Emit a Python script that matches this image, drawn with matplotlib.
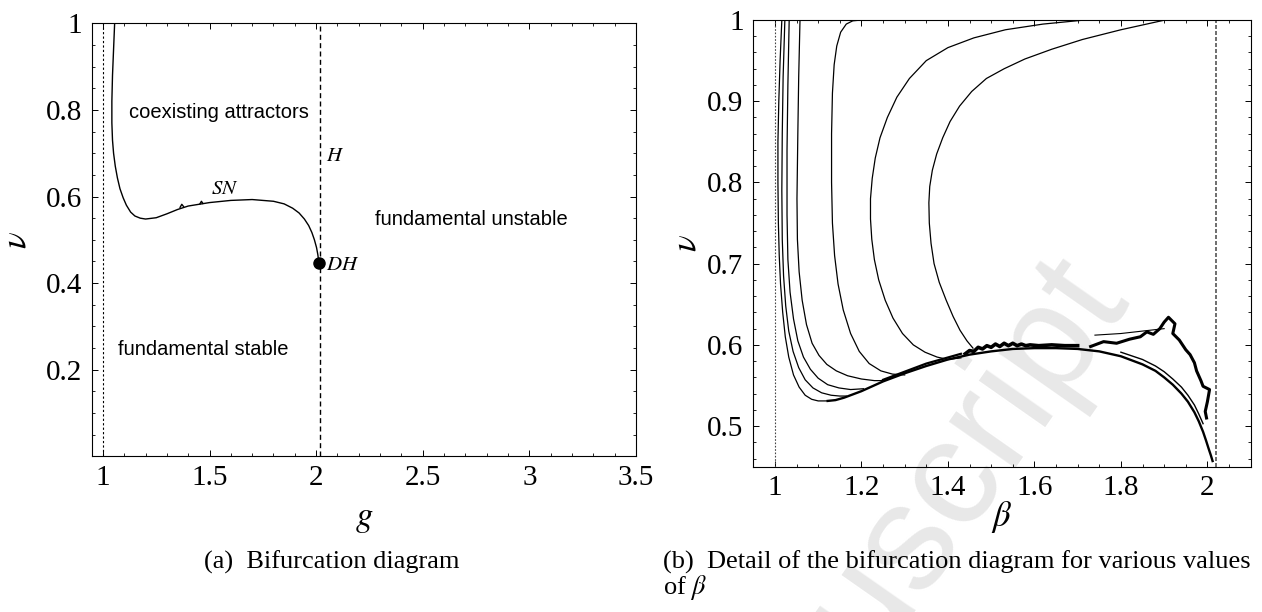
import matplotlib
matplotlib.use('Agg')
import matplotlib.pyplot as plt
from matplotlib.ticker import MultipleLocator, FixedLocator, FuncFormatter

plt.rcParams['mathtext.fontset'] = 'stix'
plt.rcParams['font.family'] = ['Liberation Serif', 'DejaVu Serif']

# ---------------- data: panel (a) ----------------
g_branch = [1.055, 1.050, 1.045, 1.042, 1.042, 1.045, 1.050, 1.058, 1.068, 1.080, 1.095,
            1.110, 1.130, 1.150, 1.175, 1.20, 1.25, 1.30, 1.35, 1.40, 1.50, 1.60, 1.70,
            1.80, 1.85, 1.89, 1.92, 1.945, 1.965, 1.98, 1.992, 2.002, 2.008, 2.013]
v_branch = [1.00, 0.94, 0.88, 0.82, 0.77, 0.73, 0.70, 0.67, 0.643, 0.618, 0.597,
            0.580, 0.564, 0.555, 0.550, 0.548, 0.551, 0.560, 0.570, 0.578, 0.586, 0.591, 0.593,
            0.589, 0.583, 0.573, 0.562, 0.548, 0.533, 0.517, 0.500, 0.482, 0.466, 0.447]
g_wiggle1 = [1.362, 1.370, 1.378]
v_wiggle1 = [0.575, 0.582, 0.577]
g_wiggle2 = [1.455, 1.462, 1.469]
v_wiggle2 = [0.583, 0.589, 0.584]
g_fold = 1.0          # dotted boundary
g_hopf = 2.016        # dashed Hopf line
dh_point = (2.013, 0.447)

# ---------------- data: panel (b) ----------------
c1_b = [1.016, 1.012, 1.009, 1.007, 1.007, 1.008, 1.010, 1.013, 1.018, 1.024, 1.032,
        1.043, 1.056, 1.070, 1.085, 1.100, 1.122]
c1_v = [1.000, 0.950, 0.900, 0.850, 0.800, 0.750, 0.710, 0.675, 0.640, 0.610, 0.585,
        0.563, 0.548, 0.538, 0.533, 0.531, 0.531]
c2_b = [1.023, 1.019, 1.017, 1.016, 1.017, 1.020, 1.025, 1.032, 1.042, 1.055, 1.070,
        1.088, 1.108, 1.130, 1.150, 1.165]
c2_v = [1.000, 0.930, 0.860, 0.790, 0.730, 0.685, 0.648, 0.617, 0.592, 0.572, 0.557,
        0.547, 0.541, 0.538, 0.537, 0.537]
c3_b = [1.033, 1.030, 1.028, 1.028, 1.030, 1.035, 1.043, 1.053, 1.066, 1.082, 1.100,
        1.122, 1.148, 1.175, 1.205]
c3_v = [1.000, 0.920, 0.840, 0.760, 0.705, 0.665, 0.632, 0.605, 0.585, 0.570, 0.559,
        0.551, 0.547, 0.545, 0.546]
c4_b = [1.058, 1.055, 1.053, 1.051, 1.052, 1.056, 1.063, 1.073, 1.086, 1.102, 1.120,
        1.142, 1.168, 1.200, 1.230, 1.250]
c4_v = [1.000, 0.930, 0.860, 0.780, 0.730, 0.690, 0.655, 0.625, 0.602, 0.587, 0.576,
        0.568, 0.562, 0.558, 0.556, 0.556]
c5_b = [1.200, 1.180, 1.165, 1.152, 1.143, 1.137, 1.133, 1.131, 1.131, 1.133, 1.138,
        1.146, 1.158, 1.175, 1.195, 1.218, 1.245, 1.272, 1.300]
c5_v = [1.000, 0.999, 0.995, 0.985, 0.968, 0.945, 0.910, 0.860, 0.800, 0.750, 0.710,
        0.675, 0.643, 0.614, 0.592, 0.577, 0.568, 0.564, 0.563]
c6_b = [1.716, 1.620, 1.533, 1.460, 1.400, 1.350, 1.311, 1.282, 1.260, 1.243, 1.232, 1.225,
        1.221, 1.221, 1.224, 1.230, 1.240, 1.255, 1.273, 1.295, 1.320, 1.347, 1.375, 1.400,
        1.430]
c6_v = [1.000, 0.995, 0.988, 0.978, 0.966, 0.950, 0.928, 0.905, 0.880, 0.855, 0.830, 0.805,
        0.780, 0.755, 0.730, 0.705, 0.680, 0.655, 0.633, 0.614, 0.600, 0.591, 0.585, 0.582,
        0.584]
c7_b = [1.902, 1.800, 1.711, 1.640, 1.578, 1.530, 1.489, 1.455, 1.427, 1.405, 1.388, 1.374,
        1.364, 1.358, 1.356, 1.357, 1.361, 1.368, 1.380, 1.396, 1.412, 1.428, 1.444, 1.458]
c7_v = [1.000, 0.988, 0.976, 0.964, 0.952, 0.940, 0.928, 0.912, 0.894, 0.875, 0.855, 0.835,
        0.815, 0.795, 0.775, 0.750, 0.725, 0.700, 0.677, 0.655, 0.635, 0.618, 0.605, 0.596]
base_b = [1.122, 1.14, 1.16, 1.18, 1.20, 1.25, 1.30, 1.35, 1.40, 1.45, 1.50, 1.55, 1.60,
          1.65, 1.70, 1.75, 1.80, 1.85, 1.88, 1.90, 1.92, 1.94, 1.955, 1.97, 1.98, 1.99,
          1.997, 2.003, 2.008, 2.012]
base_v = [0.531, 0.532, 0.535, 0.539, 0.543, 0.555, 0.565, 0.574, 0.582, 0.588, 0.592,
          0.595, 0.596, 0.596, 0.595, 0.592, 0.586, 0.576, 0.568, 0.560, 0.551, 0.540,
          0.530, 0.517, 0.506, 0.493, 0.482, 0.472, 0.464, 0.457]
sec_b = [1.80, 1.85, 1.88, 1.90, 1.92, 1.94, 1.955, 1.97, 1.98, 1.99]
sec_v = [0.591, 0.582, 0.574, 0.567, 0.558, 0.548, 0.538, 0.526, 0.515, 0.503]
fuzz1_b = [1.44, 1.45, 1.46, 1.47, 1.48, 1.49, 1.50, 1.51, 1.52, 1.53, 1.54, 1.55, 1.56,
           1.57, 1.58, 1.59, 1.61, 1.64, 1.67, 1.70]
fuzz1_v = [0.589, 0.593, 0.592, 0.597, 0.595, 0.599, 0.597, 0.601, 0.598, 0.602, 0.599,
           0.602, 0.599, 0.601, 0.599, 0.600, 0.599, 0.600, 0.599, 0.599]
fuzz2_b = [1.25, 1.27, 1.29, 1.31, 1.33, 1.35, 1.37, 1.39, 1.41, 1.43]
fuzz2_v = [0.557, 0.561, 0.565, 0.569, 0.573, 0.577, 0.580, 0.583, 0.586, 0.589]
chaos_b = [1.73, 1.76, 1.79, 1.82, 1.845, 1.86, 1.875, 1.89, 1.90, 1.91, 1.925, 1.92,
           1.935, 1.95, 1.96, 1.97, 1.975, 1.985, 1.99, 2.005, 2.0, 1.995, 1.998]
chaos_v = [0.598, 0.604, 0.602, 0.607, 0.610, 0.616, 0.613, 0.620, 0.628, 0.634, 0.626,
           0.614, 0.606, 0.594, 0.588, 0.578, 0.568, 0.556, 0.549, 0.545, 0.530, 0.518,
           0.510]
chaos2_b = [1.74, 1.80, 1.85, 1.90]
chaos2_v = [0.612, 0.614, 0.617, 0.620]
b_fold = 1.0
b_hopf = 2.02

fmt = FuncFormatter(lambda x, p: f'{x:g}')

fig = plt.figure(figsize=(12.62, 6.12), dpi=100)

# watermark
fig.text(0.893, 0.523, 'Manuscript', rotation=55, rotation_mode='anchor', ha='right',
         va='baseline', fontsize=110, color='#e8e8e8', family='Liberation Sans', zorder=-1)

axL = fig.add_axes([0.0731, 0.2544, 0.4308, 0.7075])
axR = fig.add_axes([0.5969, 0.2374, 0.3941, 0.7299])

for ax in (axL, axR):
    ax.set_facecolor('none')
    for s in ax.spines.values():
        s.set_linewidth(0.8)
    ax.tick_params(which='both', direction='in', top=True, right=True, labelsize=21)
    ax.tick_params(axis='y', pad=7)
    ax.tick_params(axis='x', pad=6)
    ax.tick_params(which='major', length=4, width=0.7)
    ax.tick_params(which='minor', length=2.2, width=0.6)
    ax.xaxis.set_major_formatter(fmt)
    ax.yaxis.set_major_formatter(fmt)

# ---- panel (a)
axL.set_xlim(0.95, 3.5)
axL.set_ylim(0.0, 1.0)
axL.xaxis.set_major_locator(FixedLocator([1, 1.5, 2, 2.5, 3, 3.5]))
axL.xaxis.set_minor_locator(MultipleLocator(0.1))
axL.yaxis.set_major_locator(FixedLocator([0.2, 0.4, 0.6, 0.8, 1.0]))
axL.yaxis.set_minor_locator(MultipleLocator(0.05))
axL.axvline(g_fold, color='k', lw=0.8, linestyle=(0, (2, 2)))
axL.axvline(g_hopf, color='k', lw=1.0, linestyle=(0, (3.6, 2.4)))
axL.plot(g_branch, v_branch, color='k', lw=1.0)
axL.plot(g_wiggle1, v_wiggle1, color='k', lw=1.0)
axL.plot(g_wiggle2, v_wiggle2, color='k', lw=1.0)
axL.plot([dh_point[0]], [dh_point[1]], 'o', color='k', ms=8)
sans = dict(family='Liberation Sans', fontsize=14.5, va='baseline', ha='left')
axL.text(1.123, 0.781, 'coexisting attractors', **sans)
axL.text(2.276, 0.534, 'fundamental unstable', **sans)
axL.text(1.069, 0.235, 'fundamental stable', **sans)
axL.text(1.573, 0.606, '$SN$', fontsize=15, ha='center', va='baseline')
axL.text(2.047, 0.683, '$H$', fontsize=15, ha='left', va='baseline')
axL.text(2.045, 0.430, '$DH$', fontsize=15, ha='left', va='baseline')
axL.set_xlabel('$g$', fontsize=25, va='center', ha='center')
axL.xaxis.set_label_coords(0.5, -0.1425)
axL.set_ylabel(r'$\nu$', fontsize=25, va='center', ha='center')
axL.yaxis.set_label_coords(-0.138, 0.5)

# ---- panel (b)
axR.set_xlim(0.95, 2.1)
axR.set_ylim(0.45, 1.0)
axR.xaxis.set_major_locator(FixedLocator([1, 1.2, 1.4, 1.6, 1.8, 2.0]))
axR.xaxis.set_minor_locator(MultipleLocator(0.05))
axR.yaxis.set_major_locator(FixedLocator([0.5, 0.6, 0.7, 0.8, 0.9, 1.0]))
axR.yaxis.set_minor_locator(MultipleLocator(0.02))
axR.axvline(b_fold, color='#444444', lw=0.8, linestyle=(0, (1.5, 1.5)))
axR.axvline(b_hopf, color='#555555', lw=1.2, linestyle=(0, (2.4, 1.2)))
for cb, cv in ((c1_b, c1_v), (c2_b, c2_v), (c3_b, c3_v), (c4_b, c4_v),
               (c5_b, c5_v), (c6_b, c6_v), (c7_b, c7_v)):
    axR.plot(cb, cv, color='k', lw=0.9)
axR.plot(base_b, base_v, color='k', lw=1.7)
axR.plot(sec_b, sec_v, color='k', lw=1.0)
axR.plot(fuzz1_b, fuzz1_v, color='k', lw=2.6)
axR.plot(fuzz2_b, fuzz2_v, color='k', lw=1.6)
axR.plot(chaos_b, chaos_v, color='k', lw=2.2)
axR.plot(chaos2_b, chaos2_v, color='k', lw=0.8)
axR.set_xlabel(r'$\beta$', fontsize=25, va='center', ha='center')
axR.xaxis.set_label_coords(0.5, -0.1126)
axR.set_ylabel(r'$\nu$', fontsize=25, va='center', ha='center')
axR.yaxis.set_label_coords(-0.133, 0.5)

# captions
fig.text(204 / 1262, 1 - 562 / 612, '(a)  Bifurcation diagram', fontsize=19,
         ha='left', va='center')
fig.text(663 / 1262, 1 - 562 / 612,
         '(b)  Detail of the bifurcation diagram for various values', fontsize=19,
         ha='left', va='center')
fig.text(663 / 1262, 1 - 588 / 612, r'of $\beta$', fontsize=19, ha='left', va='center')

fig.savefig('out.png', dpi=100)
